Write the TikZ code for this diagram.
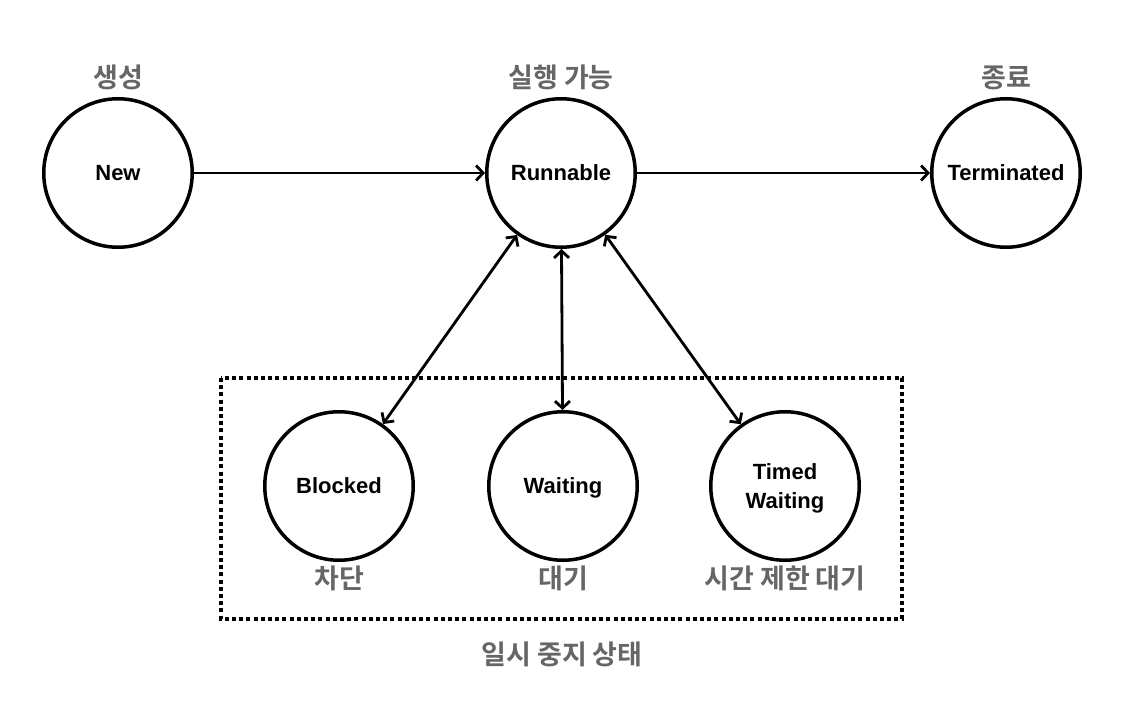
\documentclass[tikz,border=0pt]{standalone}
\usepackage{fontspec}
\setmainfont{Liberation Sans}
\newfontfamily\krfont{Noto Sans CJK KR Bold}
\usepackage{tikz}
\usetikzlibrary{automata,positioning,arrows.meta}
\definecolor{labelgray}{HTML}{666666}
\tikzset{<->, % connectors point both ways unless said otherwise
>={Straight Barb[length=7pt,width=15pt]}, % open arrow heads
x=1pt, y=-1pt, % one unit is one pixel of the layout
every state/.style={line width=3.5pt, minimum size=148.5pt, inner sep=0pt, text depth=0pt,
  font=\fontsize{22}{29}\selectfont\bfseries, align=center}, % the thread states
every edge/.style={draw, line width=2.8pt},
korean/.style={font=\krfont\fontsize{27}{30}\selectfont, text=labelgray}, % Korean captions
pausebox/.style={-, line width=4pt, dash pattern=on 4pt off 3.2pt},
}
\begin{document}
\begin{tikzpicture}
\useasboundingbox (0,0) rectangle (1144,708);
\node[state] (new) at (118,173) {New};
\node[state, right of=new, node distance=443pt] (run) {Runnable};
\node[state, right of=run, node distance=445pt] (term) {Terminated};
\node[state] (wait) at (563,486) {Waiting};
\node[state, left of=wait, node distance=224pt] (blk) {Blocked};
\node[state, right of=wait, node distance=222pt] (tw) {Timed\\Waiting};

\node[korean, above=4pt of new] (newlbl) {생성};
\node[korean, above=4pt of run] (runlbl) {실행 가능};
\node[korean, above=4pt of term] (termlbl) {종료};
\node[korean, below=0pt of blk] (blklbl) {차단};
\node[korean, below=0pt of wait] (waitlbl) {대기};
\node[korean, below=0pt of tw] (twlbl) {시간 제한 대기};

\coordinate (boxnw) at (221,378);
\coordinate (boxse) at (902,619);
\draw[pausebox] (boxnw) rectangle (boxse);
\node[korean] (pauselbl) at (562,654) {일시 중지 상태};

\draw
(new) edge[->] (run)
(run) edge[->] (term)
(run) edge (blk)
(run) edge (wait)
(run) edge (tw);

\end{tikzpicture}
\end{document}
